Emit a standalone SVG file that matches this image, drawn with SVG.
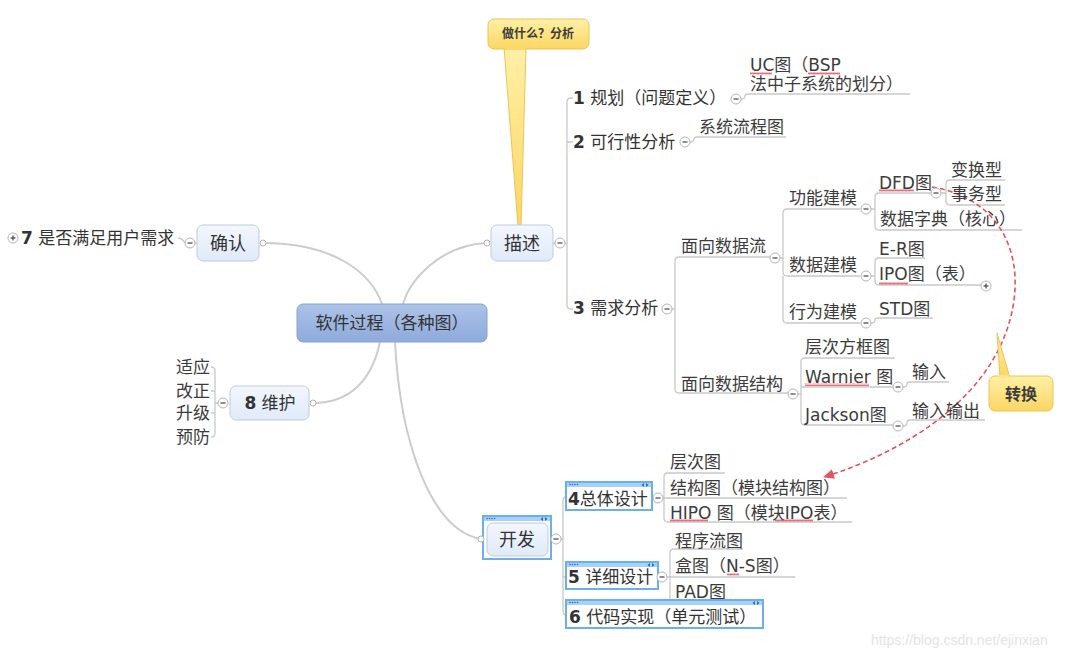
<svg xmlns="http://www.w3.org/2000/svg" width="1079" height="657" viewBox="0 0 1079 657">
<style>
text{font-family:"DejaVu Sans","Noto Sans CJK SC",sans-serif;dominant-baseline:central;fill:#3c3c3c;font-size:17px}
.b{font-weight:bold}
.t1{fill:#333}
.node{fill:url(#ng);stroke:#bfcbdc;stroke-width:1}
.ln{fill:none;stroke:#c9c9c9;stroke-width:1.3}
.br{fill:none;stroke:#cccccc;stroke-width:2}
.cc{fill:#fff;stroke:#b5b5b5;stroke-width:1}
.cm{stroke:#444;stroke-width:1.2}
.sm{fill:#fff;stroke:#b5b5b5;stroke-width:1}
.fr{fill:#fff;stroke:#6aaff0;stroke-width:2}
.hd{fill:#a8d1f7}
.dot{fill:#2f6db8}
.sq{fill:url(#sq)}
.call{fill:url(#yg);stroke:#ebc458;stroke-width:1}
</style>
<defs>
<linearGradient id="ng" x1="0" y1="0" x2="0" y2="1"><stop offset="0" stop-color="#f3f7fe"/><stop offset="1" stop-color="#e0eaf9"/></linearGradient>
<linearGradient id="cg" x1="0" y1="0" x2="0" y2="1"><stop offset="0" stop-color="#adc3e8"/><stop offset="1" stop-color="#8eaadb"/></linearGradient>
<linearGradient id="yg" x1="0" y1="0" x2="0" y2="1"><stop offset="0" stop-color="#fff0a6"/><stop offset="1" stop-color="#fbd662"/></linearGradient>
<pattern id="sq" width="4" height="3" patternUnits="userSpaceOnUse"><polyline points="0,2.5 1,0.5 2,2.5 3,0.5 4,2.5" fill="none" stroke="#e0323c" stroke-width="0.7"/></pattern>
<marker id="ar" markerWidth="12" markerHeight="10" refX="10" refY="5" orient="auto" markerUnits="userSpaceOnUse"><path d="M0 0 L11 5 L0 10 z" fill="#e2545f"/></marker>
</defs>
<rect width="1079" height="657" fill="#fff"/>

<g id="connectors">
<path class="br" d="M263 243 C330 243 370 270 382 304"/>
<path class="br" d="M487 243 C440 245 410 280 403 304"/>
<path class="br" d="M313 403 C350 403 372 380 380 342"/>
<path class="br" d="M395 342 C400 440 430 530 481 539"/>
<path class="ln" d="M553 243 H555 M565 243 H567 V102 Q567 98 571 98 H573 M567 142 H573 M567 243 V305 Q567 309 571 309 H573"/>
<path class="ln" d="M741 99 Q745 99 745 96 Q745 94 748 94 H910"/>
<path class="ln" d="M690 142 Q694 142 694 139 Q694 137 697 137 H786"/>
<path class="ln" d="M672 309 H675 V261 Q675 257 679 257 H770 M675 309 V389 Q675 393 679 393 H788"/>
<path class="ln" d="M780 258 H783 V213 Q783 209 787 209 H860 M783 258 V272 Q783 276 787 276 H860 M783 276 V319 Q783 323 787 323 H860"/>
<path class="ln" d="M871 209 H875 V197 Q875 193 879 193 H931 M875 209 V226 Q875 230 879 230 H1022"/>
<path class="ln" d="M941 193 H946 V184 Q946 180 950 180 H1005 M946 193 V201 Q946 205 950 205 H1005"/>
<path class="ln" d="M871 276 H875 V262 Q875 258 879 258 H925 M875 276 V281 Q875 285 879 285 H981"/>
<path class="ln" d="M871 323 Q875 323 875 320 Q875 318 878 318 H933"/>
<path class="ln" d="M798 394 H801 V362 Q801 358 805 358 H895 M801 387 H893 M801 394 V421 Q801 425 805 425 H893"/>
<path class="ln" d="M903 387 Q907 387 907 384 Q907 382 910 382 H949"/>
<path class="ln" d="M903 426 Q907 426 907 423 Q907 420 910 420 H985"/>
<path class="ln" d="M561 539 H563 V501 Q563 497 566 497 M563 539 V577 H566 M563 577 V611 Q563 615 566 615"/>
<path class="ln" d="M663 498 H664 V477 Q664 473 668 473 H725 M664 498 H847 M664 498 V518 Q664 522 668 522 H852"/>
<path class="ln" d="M667 577 H670 V553 Q670 549 674 549 H743 M670 577 H795 M670 577 V598 Q670 602 674 602 H740"/>
<path class="ln" d="M195 243 H197 M185 243 Q182 238 178 238"/>
<path class="ln" d="M218 403 H215 V371 Q215 367 211 367 M215 391 H211 M215 413 H211 M215 403 V433 Q215 437 211 437"/>
<path d="M932 187 C1010 200 1030 270 1005 335 C980 400 910 450 824 477" fill="none" stroke="#e2545f" stroke-width="1.6" stroke-dasharray="5,3" marker-end="url(#ar)"/>
</g>

<g id="callout-analysis">
<polygon class="call" points="504,47 526,47 521,226 518,226"/>
<rect class="call" x="488" y="19" width="101" height="30" rx="6"/>
<rect x="505" y="46" width="20" height="3" fill="#fbd966"/>
<text x="538" y="34" class="b" style="font-size:12px;text-anchor:middle">做什么？分析</text>
</g>
<g id="callout-transform">
<polygon class="call" points="997,333 1000,378 1010,378"/>
<rect class="call" x="989" y="376" width="64" height="35" rx="6"/>
<rect x="999" y="375" width="10" height="3" fill="#fde68e"/>
<text x="1021" y="394" class="b" style="font-size:16px;text-anchor:middle">转换</text>
</g>

<g id="center">
<rect x="297" y="304" width="190" height="38" rx="6" fill="url(#cg)" stroke="#87a3d2"/>
<text x="392" y="323" style="text-anchor:middle" class="t1">软件过程（各种图）</text>
</g>

<g id="n-desc">
<rect class="node" x="491" y="225" width="62" height="36" rx="6"/>
<text x="522" y="243" style="text-anchor:middle;font-size:18px" class="t1">描述</text>
<circle class="sm" cx="487" cy="243" r="3"/>
<circle class="cc" cx="560" cy="243" r="5"/><line class="cm" x1="557.5" y1="243" x2="562.5" y2="243"/>
</g>

<g id="n-confirm">
<rect class="node" x="197" y="225" width="62" height="36" rx="6"/>
<text x="228" y="243" style="text-anchor:middle;font-size:18px" class="t1">确认</text>
<circle class="sm" cx="263" cy="243" r="3"/>
<circle class="cc" cx="190" cy="243" r="5"/><line class="cm" x1="187.5" y1="243" x2="192.5" y2="243"/>
</g>
<g id="n-7">
<circle class="cc" cx="13" cy="238" r="5"/><line class="cm" x1="10.5" y1="238" x2="15.5" y2="238"/><line class="cm" x1="13" y1="235.5" x2="13" y2="240.5"/>
<text x="21" y="238" class="t1"><tspan class="b">7</tspan> 是否满足用户需求</text>
</g>

<g id="n-maint">
<rect class="node" x="230" y="386" width="79" height="34" rx="6"/>
<text x="270" y="403" style="text-anchor:middle" class="t1"><tspan class="b">8</tspan> 维护</text>
<circle class="sm" cx="313" cy="403" r="3"/>
<circle class="cc" cx="223" cy="403" r="5"/><line class="cm" x1="220.5" y1="403" x2="225.5" y2="403"/>
</g>
<g id="n-maint-kids">
<text x="210" y="367" style="text-anchor:end">适应</text>
<text x="210" y="391" style="text-anchor:end">改正</text>
<text x="210" y="413" style="text-anchor:end">升级</text>
<text x="210" y="437" style="text-anchor:end">预防</text>
</g>

<g id="n-1">
<text x="573" y="98" class="t1"><tspan class="b">1</tspan> 规划（问题定义）</text>
<circle class="cc" cx="736" cy="99" r="5"/><line class="cm" x1="733.5" y1="99" x2="738.5" y2="99"/>
<text x="750" y="65">UC图（BSP</text>
<text x="750" y="84">法中子系统的划分）</text>
<rect class="sq" x="750" y="72" width="22" height="3"/>
<rect class="sq" x="808" y="72" width="32" height="3"/>
</g>
<g id="n-2">
<text x="573" y="142" class="t1"><tspan class="b">2</tspan> 可行性分析</text>
<circle class="cc" cx="685" cy="142" r="5"/><line class="cm" x1="682.5" y1="142" x2="687.5" y2="142"/>
<text x="699" y="127">系统流程图</text>
</g>
<g id="n-3">
<text x="573" y="308" class="t1"><tspan class="b">3</tspan> 需求分析</text>
<circle class="cc" cx="667" cy="309" r="5"/><line class="cm" x1="664.5" y1="309" x2="669.5" y2="309"/>
</g>
<g id="n-dataflow">
<text x="681" y="246">面向数据流</text>
<circle class="cc" cx="775" cy="258" r="5"/><line class="cm" x1="772.5" y1="258" x2="777.5" y2="258"/>
</g>
<g id="n-func">
<text x="789" y="198">功能建模</text>
<circle class="cc" cx="866" cy="209" r="5"/><line class="cm" x1="863.5" y1="209" x2="868.5" y2="209"/>
<text x="879" y="183">DFD图</text>
<rect class="sq" x="879" y="189" width="35" height="3"/>
<circle class="cc" cx="936" cy="193" r="5"/><line class="cm" x1="933.5" y1="193" x2="938.5" y2="193"/>
<text x="951" y="170">变换型</text>
<text x="951" y="194">事务型</text>
<text x="880" y="219">数据字典（核心）</text>
</g>
<g id="n-datamodel">
<text x="789" y="265">数据建模</text>
<circle class="cc" cx="866" cy="276" r="5"/><line class="cm" x1="863.5" y1="276" x2="868.5" y2="276"/>
<text x="879" y="249">E-R图</text>
<text x="879" y="274">IPO图（表）</text>
<rect class="sq" x="879" y="282" width="29" height="3"/>
<circle class="cc" cx="986" cy="286" r="5"/><line class="cm" x1="983.5" y1="286" x2="988.5" y2="286"/><line class="cm" x1="986" y1="283.5" x2="986" y2="288.5"/>
</g>
<g id="n-behav">
<text x="789" y="312">行为建模</text>
<circle class="cc" cx="866" cy="323" r="5"/><line class="cm" x1="863.5" y1="323" x2="868.5" y2="323"/>
<text x="879" y="309">STD图</text>
</g>
<g id="n-datastruct">
<text x="681" y="384">面向数据结构</text>
<circle class="cc" cx="793" cy="394" r="5"/><line class="cm" x1="790.5" y1="394" x2="795.5" y2="394"/>
<text x="805" y="347">层次方框图</text>
<text x="805" y="377">Warnier 图</text>
<rect class="sq" x="805" y="383" width="64" height="3"/>
<circle class="cc" cx="898" cy="387" r="5"/><line class="cm" x1="895.5" y1="387" x2="900.5" y2="387"/>
<text x="912" y="372">输入</text>
<text x="805" y="415">Jackson图</text>
<circle class="cc" cx="898" cy="426" r="5"/><line class="cm" x1="895.5" y1="426" x2="900.5" y2="426"/>
<text x="912" y="411">输入输出</text>
</g>

<g id="n-dev">
<rect class="fr" x="483" y="516" width="68" height="43"/>
<rect class="hd" x="484" y="517" width="66" height="4"/>
<circle class="dot" cx="487" cy="518.5" r="0.8"/><circle class="dot" cx="489.5" cy="518.5" r="0.8"/><circle class="dot" cx="492" cy="518.5" r="0.8"/><circle class="dot" cx="494.5" cy="518.5" r="0.8"/>
<path class="dot" d="M543 517 L540.5 519 L543 521 z M545 517 L547.5 519 L545 521 z"/>
<rect class="node" x="487" y="523" width="61" height="33" rx="6"/>
<text x="517" y="539" style="text-anchor:middle;font-size:18px" class="t1">开发</text>
<circle class="sm" cx="481" cy="539" r="3"/>
<circle class="cc" cx="556" cy="539" r="5"/><line class="cm" x1="553.5" y1="539" x2="558.5" y2="539"/>
</g>
<g id="n-4">
<rect class="fr" x="566" y="482" width="86" height="28"/>
<rect class="hd" x="567" y="483" width="84" height="4"/>
<circle class="dot" cx="570" cy="484.5" r="0.8"/><circle class="dot" cx="572.5" cy="484.5" r="0.8"/><circle class="dot" cx="575" cy="484.5" r="0.8"/><circle class="dot" cx="577.5" cy="484.5" r="0.8"/>
<path class="dot" d="M644 483 L641.5 485 L644 487 z M646 483 L648.5 485 L646 487 z"/>
<text x="568" y="499" class="t1"><tspan class="b">4</tspan>总体设计</text>
<circle class="cc" cx="658" cy="498" r="5"/><line class="cm" x1="655.5" y1="498" x2="660.5" y2="498"/>
<text x="670" y="462">层次图</text>
<text x="670" y="488">结构图（模块结构图）</text>
<text x="670" y="513">HIPO 图（模块IPO表）</text>
<rect class="sq" x="670" y="519" width="38" height="3"/>
<rect class="sq" x="775" y="519" width="38" height="3"/>
</g>
<g id="n-5">
<rect class="fr" x="566" y="562" width="92" height="27"/>
<rect class="hd" x="567" y="563" width="90" height="4"/>
<circle class="dot" cx="570" cy="564.5" r="0.8"/><circle class="dot" cx="572.5" cy="564.5" r="0.8"/><circle class="dot" cx="575" cy="564.5" r="0.8"/><circle class="dot" cx="577.5" cy="564.5" r="0.8"/>
<path class="dot" d="M650 563 L647.5 565 L650 567 z M652 563 L654.5 565 L652 567 z"/>
<text x="568" y="577" class="t1"><tspan class="b">5</tspan> 详细设计</text>
<circle class="cc" cx="662" cy="577" r="5"/><line class="cm" x1="659.5" y1="577" x2="664.5" y2="577"/>
<text x="675" y="541">程序流图</text>
<text x="675" y="566">盒图（N-S图）</text>
<rect class="sq" x="727" y="573" width="12" height="3"/>
<text x="675" y="592">PAD图</text>
</g>
<g id="n-6">
<rect class="fr" x="566" y="600" width="197" height="28"/>
<rect class="hd" x="567" y="601" width="195" height="4"/>
<circle class="dot" cx="570" cy="602.5" r="0.8"/><circle class="dot" cx="572.5" cy="602.5" r="0.8"/><circle class="dot" cx="575" cy="602.5" r="0.8"/><circle class="dot" cx="577.5" cy="602.5" r="0.8"/>
<path class="dot" d="M755 601 L752.5 603 L755 605 z M757 601 L759.5 603 L757 605 z"/>
<text x="569" y="617" class="t1"><tspan class="b">6</tspan> 代码实现（单元测试）</text>
</g>

<text x="871" y="640" style="font-family:'Liberation Sans',sans-serif;font-size:14px;fill:#e4e4e4">https://blog.csdn.net/ejinxian</text>
</svg>
